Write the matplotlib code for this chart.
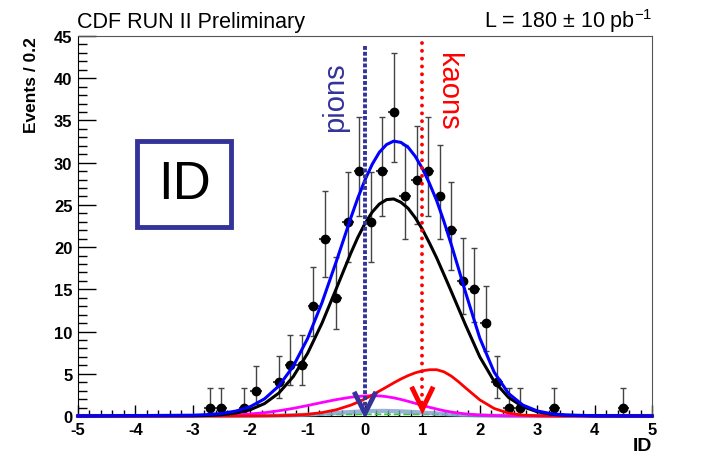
import matplotlib
matplotlib.use('Agg')
import matplotlib.pyplot as plt
from matplotlib.patches import Rectangle
from matplotlib.ticker import MultipleLocator

plt.rcParams['font.family'] = ['Liberation Sans', 'DejaVu Sans']
plt.rcParams['mathtext.fontset'] = 'custom'
plt.rcParams['mathtext.rm'] = 'Liberation Sans'
plt.rcParams['mathtext.it'] = 'Liberation Sans:italic'
plt.rcParams['mathtext.bf'] = 'Liberation Sans:bold'
plt.rcParams['axes.unicode_minus'] = False

# data points (bin width 0.2)
id_x = [-2.7, -2.5, -2.1, -1.9, -1.5, -1.3, -1.1, -0.9, -0.7, -0.5, -0.3, -0.1,
        0.1, 0.3, 0.5, 0.7, 0.9, 1.1, 1.3, 1.5, 1.7, 1.9, 2.1, 2.3, 2.5, 2.7, 3.3, 4.5]
counts = [1, 1, 1, 3, 4, 6, 6, 13, 21, 14, 23, 29,
          23, 29, 36, 26, 28, 29, 26, 22, 16, 15, 11, 4, 1, 1, 1, 1]
err_lo = [0.83, 0.83, 0.83, 1.63, 1.91, 2.38, 2.38, 3.56, 4.55, 3.70, 4.77, 5.37,
          4.77, 5.37, 5.98, 5.08, 5.28, 5.37, 5.08, 4.66, 3.96, 3.83, 3.26, 1.91,
          0.83, 0.83, 0.83, 0.83]
err_hi = [2.30, 2.30, 2.30, 2.92, 3.16, 3.58, 3.58, 4.67, 5.63, 4.80, 5.84, 6.43,
          5.84, 6.43, 7.03, 6.14, 6.34, 6.43, 6.14, 5.73, 5.06, 4.93, 4.40, 3.16,
          2.30, 2.30, 2.30, 2.30]

# fit curves
fit_x = [-5, -3.0, -2.75, -2.5, -2.25, -2.0, -1.75, -1.5, -1.25, -1.0, -0.75, -0.5,
         -0.25, -0.125, 0.0, 0.125, 0.25, 0.375, 0.5, 0.625, 0.75, 0.875, 1.0,
         1.125, 1.25, 1.375, 1.5, 1.625, 1.75, 2.0, 2.25, 2.5, 2.75,
         3.0, 3.25, 3.5, 4.0, 5]
total = [0, 0.09, 0.16, 0.30, 0.58, 1.10, 2.03, 3.56, 5.89, 9.17, 13.40, 18.30,
         23.40, 25.81, 27.96, 29.80, 31.23, 32.14, 32.55, 32.40, 31.83, 30.75, 29.31,
         27.51, 25.48, 23.04, 20.37, 17.55, 14.67, 9.22, 5.19,
         2.67, 1.29, 0.60, 0.26, 0.12, 0.03, 0]
pions = [0, 0.02, 0.06, 0.15, 0.35, 0.74, 1.47, 2.72, 4.66, 7.42, 10.98, 15.08,
         19.24, 21.15, 22.80, 24.14, 25.10, 25.62, 25.70, 25.31, 24.60, 23.48, 22.10,
         20.46, 18.70, 16.76, 14.80, 12.80, 10.80, 7.00, 4.10,
         2.20, 1.10, 0.50, 0.20, 0.08, 0.01, 0]
kaons = [0, 0, 0, 0, 0, 0.01, 0.02, 0.04, 0.09, 0.19, 0.40, 0.74,
         1.28, 1.63, 2.03, 2.47, 2.95, 3.43, 3.92, 4.38, 4.78, 5.11, 5.35,
         5.48, 5.48, 5.23, 4.74, 4.08, 3.34, 1.91, 0.89,
         0.34, 0.10, 0.03, 0.01, 0, 0, 0]
magenta = [0, 0.02, 0.04, 0.07, 0.13, 0.24, 0.39, 0.62, 0.90, 1.24, 1.60, 1.94,
           2.22, 2.31, 2.37, 2.40, 2.38, 2.29, 2.15, 1.96, 1.74, 1.50, 1.26,
           1.03, 0.82, 0.63, 0.47, 0.35, 0.25, 0.11, 0.05,
           0.02, 0.01, 0, 0, 0, 0, 0]
steel = [0, 0, 0, 0, 0.01, 0.01, 0.03, 0.05, 0.09, 0.16, 0.25, 0.36,
         0.47, 0.52, 0.56, 0.59, 0.60, 0.60, 0.58, 0.55, 0.51, 0.46, 0.41,
         0.35, 0.30, 0.24, 0.19, 0.15, 0.12, 0.06, 0.03,
         0.01, 0, 0, 0, 0, 0, 0]
green = [0, 0.05, 0.06, 0.08, 0.09, 0.10, 0.12, 0.13, 0.15, 0.16, 0.17, 0.18,
         0.19, 0.195, 0.20, 0.20, 0.20, 0.20, 0.20, 0.20, 0.20, 0.195, 0.19,
         0.185, 0.18, 0.175, 0.17, 0.165, 0.16, 0.14, 0.12,
         0.10, 0.08, 0.07, 0.05, 0.04, 0.02, 0]

pion_id = 0.0
kaon_id = 1.0

navy = '#333399'

fig = plt.figure(figsize=(7.18, 4.6), dpi=100)
ax = fig.add_axes([0.1086, 0.0935, 0.7995, 0.8261])

# data
ax.errorbar(id_x, counts, yerr=[err_lo, err_hi], fmt='none', ecolor='#444444',
            elinewidth=1, capsize=2.5, capthick=1, zorder=2)
ax.errorbar(id_x, counts, xerr=0.1, fmt='o', color='black', ms=6,
            ecolor='#444444', elinewidth=1.5, capsize=0, zorder=3)

# curves
ax.plot(fit_x, green, color='#33cc33', lw=1.3, ls='--', zorder=4, clip_on=False)
ax.plot(fit_x, steel, color='#7f9fcf', lw=3, alpha=0.8, zorder=4, clip_on=False)
ax.plot(fit_x, magenta, color='#ff00ff', lw=2, zorder=4, clip_on=False)
ax.plot(fit_x, kaons, color='#ff0000', lw=2, zorder=4, clip_on=False)
ax.plot(fit_x, pions, color='black', lw=2.2, zorder=5, clip_on=False)
ax.plot(fit_x, total, color='#0000ff', lw=2.2, zorder=6, clip_on=False)

# pion / kaon markers
ax.plot([pion_id, pion_id], [43.8, 1.0], color=navy, lw=2.8,
        dashes=(1, 0.5), dash_capstyle='butt', zorder=7)
ax.plot([pion_id - 0.17, pion_id, pion_id + 0.17], [2.6, 0.3, 2.6],
        color=navy, lw=3.5, solid_joinstyle='miter', zorder=7)
ax.plot([kaon_id, kaon_id], [44.2, 1.5], color='#ff0000', lw=2.8,
        ls=(0, (0.01, 2)), dash_capstyle='round', zorder=7)
ax.plot([kaon_id - 0.17, kaon_id, kaon_id + 0.17], [3.2, 0.8, 3.2],
        color='#ff0000', lw=3.5, solid_joinstyle='miter', zorder=7)

ax.text(-0.52, 37.9, 'pions', color=navy, fontsize=21, rotation=90,
        ha='center', va='center')
ax.text(1.45, 38.5, 'kaons', color='#ff0000', fontsize=21, rotation=-90,
        ha='center', va='center')

# ID box
ax.add_patch(Rectangle((0.1028, 0.497), 0.1638, 0.2263, transform=ax.transAxes,
                       fill=False, edgecolor=navy, lw=3.5, zorder=8))
ax.text(0.1847, 0.61, 'ID', transform=ax.transAxes, fontsize=38,
        ha='center', va='center', zorder=8)

ax.set_xlim(-5, 5)
ax.set_ylim(0, 45)
ax.xaxis.set_major_locator(MultipleLocator(1))
ax.xaxis.set_minor_locator(MultipleLocator(0.2))
ax.yaxis.set_major_locator(MultipleLocator(5))
ax.yaxis.set_minor_locator(MultipleLocator(1))
ax.tick_params(axis='x', which='major', direction='in', length=8, width=1,
               pad=4, labelsize=12)
ax.tick_params(axis='x', which='minor', direction='in', length=4, width=1)
ax.tick_params(axis='y', which='major', direction='in', length=13, width=1,
               pad=4, labelsize=12)
ax.tick_params(axis='y', which='minor', direction='in', length=6.5, width=1)
for lab in ax.get_xticklabels() + ax.get_yticklabels():
    lab.set_fontweight('bold')

for side in ['top', 'right']:
    ax.spines[side].set_color('#555555')

ax.set_ylabel('Events / 0.2', fontsize=12.5, fontweight='bold', ha='right')
ax.yaxis.set_label_coords(-0.068, 1.0)
ax.set_xlabel('ID', fontsize=14, fontweight='bold', ha='right')
ax.xaxis.set_label_coords(1.0, -0.055)

fig.text(0.107, 1 - 28 / 460, 'CDF RUN II Preliminary', fontsize=15.5, va='baseline')
fig.text(0.909, 1 - 28 / 460, r'L = 180 $\pm$ 10 pb$^{-1}$', fontsize=15.5,
         va='baseline', ha='right')

fig.savefig('out.png', dpi=100)
